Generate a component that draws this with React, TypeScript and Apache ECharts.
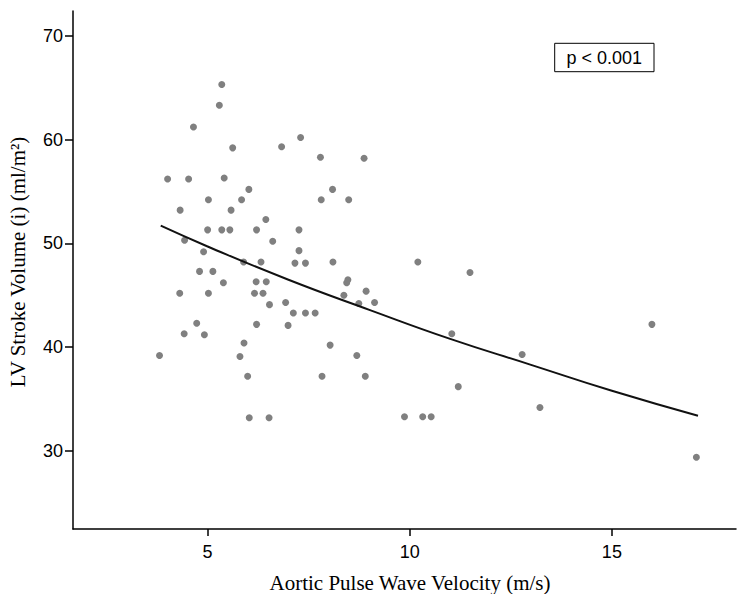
import React, { useEffect, useRef } from "react";
import * as echarts from "echarts";

// Scatter data: aortic pulse wave velocity (m/s) vs LV stroke volume index (ml/m²)
const pwv = [
  5.35, 5.29, 4.65, 5.62, 6.83, 7.3, 4.01, 4.53, 5.41, 6.02,
  5.02, 5.84, 4.32, 5.58, 6.44, 5.0, 5.35, 5.55, 6.21, 7.26,
  4.43, 6.61, 4.9, 7.26, 5.89, 6.32, 7.16, 7.42, 4.8, 5.13,
  5.39, 6.2, 6.45, 4.31, 5.02, 6.16, 6.37, 6.53, 6.93, 7.12,
  7.42, 4.73, 6.21, 6.99, 4.42, 4.92, 5.9, 3.81, 5.8, 5.99,
  6.03, 6.52, 7.79, 8.87, 8.09, 7.81, 8.49, 8.1, 10.2, 11.49,
  8.47, 8.44, 8.37, 8.92, 8.74, 9.13, 7.66, 8.03, 8.69, 7.83,
  8.9, 11.04, 11.2, 9.87, 10.32, 10.53, 12.78, 13.22, 15.99, 17.09,
];
const strokeVolume = [
  65.3, 63.3, 61.2, 59.2, 59.3, 60.2, 56.2, 56.2, 56.3, 55.2,
  54.2, 54.2, 53.2, 53.2, 52.3, 51.3, 51.3, 51.3, 51.3, 51.3,
  50.3, 50.2, 49.2, 49.3, 48.2, 48.2, 48.1, 48.1, 47.3, 47.3,
  46.2, 46.3, 46.3, 45.2, 45.2, 45.2, 45.2, 44.1, 44.3, 43.3,
  43.3, 42.3, 42.2, 42.1, 41.3, 41.2, 40.4, 39.2, 39.1, 37.2,
  33.2, 33.2, 58.3, 58.2, 55.2, 54.2, 54.2, 48.2, 48.2, 47.2,
  46.5, 46.2, 45.0, 45.4, 44.2, 44.3, 43.3, 40.2, 39.2, 37.2,
  37.2, 41.3, 36.2, 33.3, 33.3, 33.3, 39.3, 34.2, 42.2, 29.4,
];

// Fitted curve
const fitX = [3.84, 5, 7, 9, 11, 13, 15, 17.13];
const fitY = [51.7, 49.7, 46.5, 43.6, 40.8, 38.3, 35.8, 33.4];

const xTicks = [5, 10, 15];
const yTicks = [30, 40, 50, 60, 70];

const xTitle = "Aortic Pulse Wave Velocity (m/s)";
const yTitle = "LV Stroke Volume (i) (ml/m²)";
const pLabel = "p < 0.001";

export default function App() {
  const ref = useRef<HTMLDivElement>(null);

  useEffect(() => {
    if (!ref.current) return;
    const chart = echarts.init(ref.current, null, { renderer: "svg" });
    const sans = "'Liberation Sans', Arial, Helvetica, sans-serif";
    const serif = "'Liberation Serif', 'Times New Roman', serif";
    chart.setOption({
      animation: false,
      backgroundColor: "#ffffff",
      grid: { left: 73, top: 11, right: 1, bottom: 65, containLabel: false },
      xAxis: {
        type: "value",
        min: 1.67,
        max: 18.07,
        splitLine: { show: false },
        axisLine: { show: true, onZero: false, lineStyle: { color: "#000", width: 1.5 } },
        axisTick: { show: true, customValues: xTicks, length: 7, lineStyle: { color: "#000", width: 1.5 } },
        axisLabel: { customValues: xTicks, margin: 14, color: "#000", fontSize: 18, fontFamily: sans },
      },
      yAxis: {
        type: "value",
        min: 22.49,
        max: 72.38,
        splitLine: { show: false },
        axisLine: { show: true, onZero: false, lineStyle: { color: "#000", width: 1.5 } },
        axisTick: { show: true, customValues: yTicks, length: 8, lineStyle: { color: "#000", width: 1.5 } },
        axisLabel: { customValues: yTicks, margin: 10, color: "#000", fontSize: 18, fontFamily: sans },
      },
      series: [
        {
          type: "scatter",
          data: pwv.map((x, i) => [x, strokeVolume[i]]),
          symbolSize: 7,
          itemStyle: { color: "#808080", opacity: 1 },
          z: 2,
        },
        {
          type: "line",
          data: fitX.map((x, i) => [x, fitY[i]]),
          smooth: true,
          showSymbol: false,
          symbol: "none",
          lineStyle: { color: "#111", width: 2 },
          z: 3,
        },
      ],
      graphic: [
        {
          type: "text",
          x: 410,
          y: 583,
          style: {
            text: xTitle,
            fontSize: 21,
            fontFamily: serif,
            fill: "#000",
            textAlign: "center",
            textVerticalAlign: "middle",
          },
        },
        {
          type: "text",
          x: 18,
          y: 262,
          rotation: Math.PI / 2,
          style: {
            text: yTitle,
            fontSize: 21,
            fontFamily: serif,
            fill: "#000",
            textAlign: "center",
            textVerticalAlign: "middle",
          },
        },
        {
          type: "rect",
          shape: { x: 554.7, y: 43.3, width: 99.3, height: 28.4 },
          style: { fill: "#fff", stroke: "#000", lineWidth: 1 },
        },
        {
          type: "text",
          x: 604.3,
          y: 57.5,
          style: {
            text: pLabel,
            fontSize: 18,
            fontFamily: sans,
            fill: "#000",
            textAlign: "center",
            textVerticalAlign: "middle",
          },
        },
      ],
    });
    return () => chart.dispose();
  }, []);

  return <div ref={ref} style={{ width: 737, height: 594, position: "absolute", left: 0, top: 0 }} />;
}
